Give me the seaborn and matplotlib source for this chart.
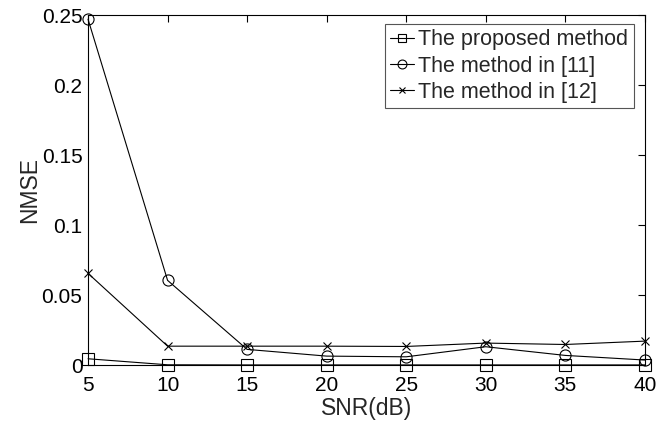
# -*- coding: utf-8 -*-
import matplotlib
matplotlib.use('Agg')
import matplotlib.pyplot as plt
import seaborn as sns
import pandas as pd

# data
snr = [5, 10, 15, 20, 25, 30, 35, 40]
nmse_proposed = [0.0045, 0.0002, 0.0001, 0.0001, 0.0001, 0.0001, 0.0001, 0.0001]
nmse_ref11 = [0.247, 0.0605, 0.0112, 0.0064, 0.0059, 0.0131, 0.0069, 0.0036]
nmse_ref12 = [0.0655, 0.0135, 0.0135, 0.0135, 0.0133, 0.0157, 0.0147, 0.0171]
names = ['The proposed method', 'The method in [11]', 'The method in [12]']
markers = ['s', 'o', 'x']

sns.set_style('white')
plt.rcParams['font.family'] = ['Liberation Sans', 'DejaVu Sans']

fig = plt.figure(figsize=(6.62, 4.30), dpi=100)
ax = fig.add_axes([0.133, 0.151, 0.841, 0.814])

for name, vals, m in zip(names, [nmse_proposed, nmse_ref11, nmse_ref12], markers):
    df = pd.DataFrame({'SNR': snr, 'NMSE': vals})
    sns.lineplot(data=df, x='SNR', y='NMSE', ax=ax, color='black', lw=0.8,
                 marker=m, markersize=8 if m != 'x' else 6,
                 markerfacecolor='none', markeredgecolor='black',
                 markeredgewidth=0.8, label=name, clip_on=False)

ax.set_xlim(5, 40)
ax.set_ylim(0, 0.25)
ax.set_xticks(snr)
ax.set_yticks([0, 0.05, 0.1, 0.15, 0.2, 0.25])
ax.set_yticklabels(['0', '0.05', '0.1', '0.15', '0.2', '0.25'])
ax.tick_params(direction='in', top=True, right=True, length=5, width=0.8,
               labelsize=15, colors='black', pad=4)
ax.tick_params(axis='x', pad=8)
for s in ax.spines.values():
    s.set_color('black')
    s.set_linewidth(0.8)
ax.set_xlabel('SNR(dB)', fontsize=16.5, labelpad=1)
ax.set_ylabel('NMSE', fontsize=16.5, labelpad=0)

leg = ax.legend(loc='upper left', bbox_to_anchor=(0.533, 0.975), fontsize=15.5,
                handlelength=1.1, handletextpad=0.2, borderpad=0.25,
                borderaxespad=0, labelspacing=0.25, markerscale=0.8,
                fancybox=False, framealpha=1)
leg.get_frame().set_edgecolor('#555555')
leg.get_frame().set_linewidth(0.8)

fig.savefig('out.png', dpi=100)
